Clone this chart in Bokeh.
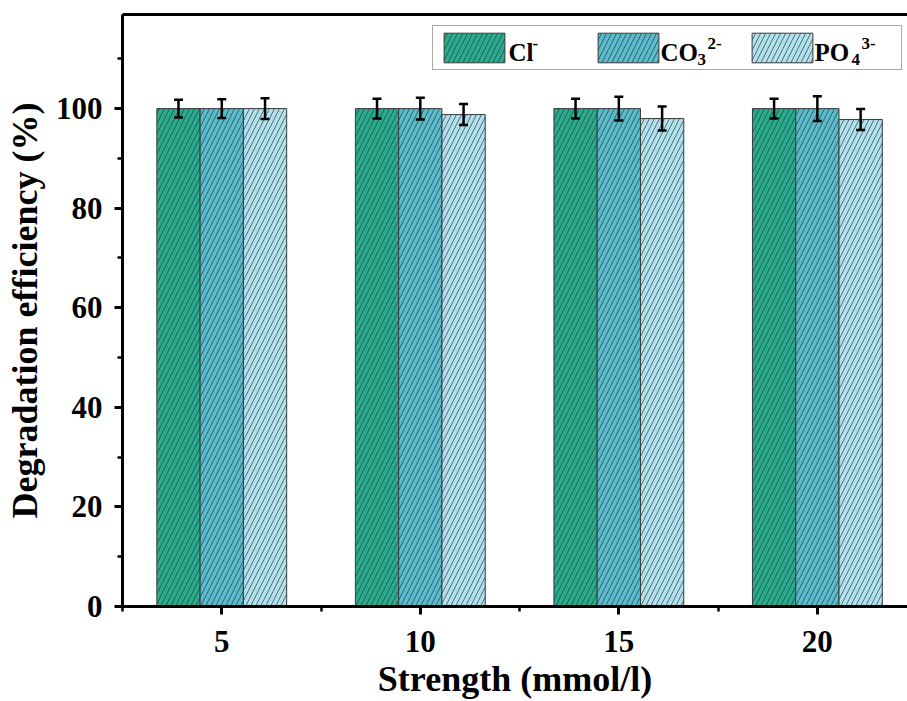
from bokeh.plotting import figure
from bokeh.models import (ColumnDataSource, Range1d, FixedTicker, SingleIntervalTicker,
                          LinearAxis, Legend, LegendItem, Whisker, TeeHead, Label)
from bokeh.transform import dodge
from bokeh.embed import file_html
from bokeh.resources import INLINE

# ---- data ----
strength = [5, 10, 15, 20]
series_base = ["Cl", "CO", "PO"]
series_sub = ["", "3", "4"]
series_sup = ["-", "2-", "3-"]
cl_vals = [100.0, 100.0, 100.0, 100.0]
cl_err = [1.8, 2.0, 2.0, 2.0]
co3_vals = [100.0, 100.0, 100.0, 100.0]
co3_err = [1.9, 2.2, 2.4, 2.5]
po4_vals = [100.0, 98.8, 98.0, 97.8]
po4_err = [2.1, 2.1, 2.4, 2.1]
x_ticks = [5, 10, 15, 20]
x_minor = [2.5, 7.5, 12.5, 17.5, 22.5]

colors = ["#2aab8e", "#5bbacb", "#b2e0ec"]
FONT = "Liberation Serif"

p = figure(width=907, height=701, output_backend="svg", toolbar_location=None,
           x_range=Range1d(2.5, 22.27), y_range=Range1d(0, 118.9),
           min_border_left=122, min_border_top=14, min_border_bottom=95,
           min_border_right=0)
p.outline_line_color = None
p.xgrid.grid_line_color = None
p.ygrid.grid_line_color = None
p.background_fill_color = "white"
p.border_fill_color = "white"

bw = 1.09
offsets = [-bw, 0.0, bw]
renderers = []
for vals, errs, off, col in zip([cl_vals, co3_vals, po4_vals],
                                [cl_err, co3_err, po4_err], offsets, colors):
    src = ColumnDataSource(dict(x=strength, top=vals,
                                upper=[v + e for v, e in zip(vals, errs)],
                                lower=[v - e for v, e in zip(vals, errs)]))
    r = p.vbar(x=dodge("x", off), top="top", width=bw, bottom=0, source=src,
               fill_color=col, line_color="#3a3a3a", line_width=1,
               hatch_pattern="/", hatch_scale=10, hatch_weight=0.9,
               hatch_color="#1b3a36", hatch_alpha=0.75)
    renderers.append(r)
    w = Whisker(base=dodge("x", off), upper="upper", lower="lower", source=src,
                level="overlay", line_color="black", line_width=2.5,
                upper_head=TeeHead(size=9, line_width=2.5, line_color="black"),
                lower_head=TeeHead(size=9, line_width=2.5, line_color="black"))
    p.add_layout(w)

# axes
for ax in [p.xaxis[0], p.yaxis[0]]:
    ax.axis_line_width = 3
    ax.major_tick_line_width = 3
    ax.minor_tick_line_width = 2.5
    ax.major_tick_in = 0
    ax.major_tick_out = 8
    ax.minor_tick_in = 0
    ax.minor_tick_out = 5
    ax.major_label_text_font = FONT
    ax.major_label_text_font_style = "bold"
    ax.major_label_text_font_size = "31px"
    ax.major_label_text_color = "black"
    ax.axis_label_text_font = FONT
    ax.axis_label_text_font_style = "bold"
    ax.axis_label_text_font_size = "36px"
    ax.axis_label_text_color = "black"

p.xaxis[0].ticker = FixedTicker(ticks=x_ticks, minor_ticks=x_minor)
p.xaxis[0].axis_label = "Strength (mmol/l)"
p.xaxis[0].major_label_standoff = 16
p.xaxis[0].axis_label_standoff = 4

p.yaxis[0].ticker = SingleIntervalTicker(interval=20, num_minor_ticks=2)
p.yaxis[0].axis_label = "Degradation efficiency (%)"
p.yaxis[0].major_label_standoff = 12
p.yaxis[0].axis_label_standoff = 8

top_ax = LinearAxis(ticker=FixedTicker(ticks=[]), axis_line_width=3,
                    major_tick_out=0, minor_tick_out=0, major_label_text_font_size="0px")
p.add_layout(top_ax, "above")

legend = Legend(items=[LegendItem(label=b + s, renderers=[r])
                       for b, s, r in zip(series_base, series_sub, renderers)],
                orientation="horizontal", location=(310, 536),
                glyph_width=76, glyph_height=37, label_standoff=0, label_width=78,
                spacing=0, padding=3, margin=0,
                label_text_font=FONT, label_text_font_size="25px", label_text_alpha=0,
                border_line_color="#555555", border_line_width=1.2,
                background_fill_alpha=0)
p.add_layout(legend)

# legend texts with real sub/superscripts (screen units from frame bottom-left)
base_x = [386, 538, 692]
base_w = [24, 37, 37]
for bx, bw_, b, sb, sp in zip(base_x, base_w, series_base, series_sub, series_sup):
    p.add_layout(Label(x=bx, y=554, x_units="screen", y_units="screen", text=b,
                       level="overlay",
                       text_font=FONT, text_font_style="bold", text_font_size="25px",
                       text_baseline="alphabetic", text_color="black"))
    if sb:
        p.add_layout(Label(x=bx + bw_, y=547, x_units="screen", y_units="screen", text=sb,
                           level="overlay",
                           text_font=FONT, text_font_style="bold", text_font_size="17px",
                           text_baseline="alphabetic", text_color="black"))
    sx = bx + bw_ + (10 if sb else 0)
    p.add_layout(Label(x=sx, y=563, x_units="screen", y_units="screen", text=sp,
                       level="overlay",
                       text_font=FONT, text_font_style="bold", text_font_size="17px",
                       text_baseline="alphabetic", text_color="black"))

open("out.html", "w").write(file_html(p, INLINE))
